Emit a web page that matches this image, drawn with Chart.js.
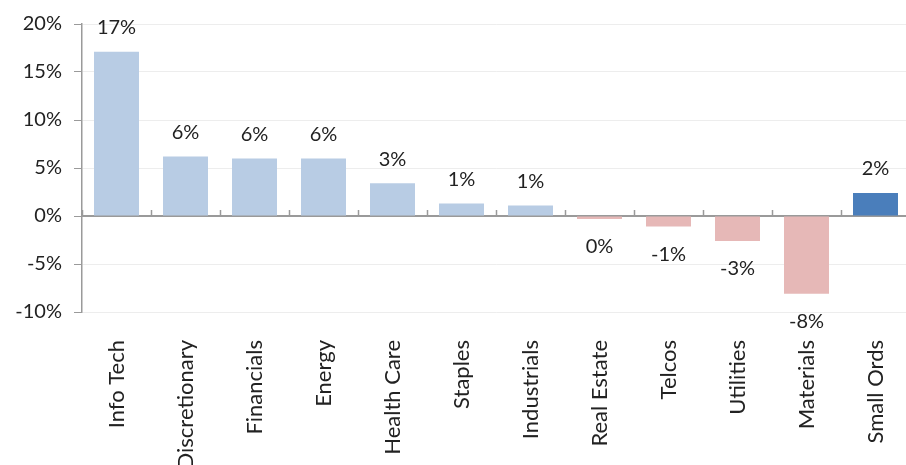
<!DOCTYPE html>
<html>
<head>
<meta charset="utf-8">
<script src="https://cdn.jsdelivr.net/npm/chart.js@4"></script>
<style>
    html, body { margin: 0; padding: 0; background: #fff; overflow: hidden; }
    #wrap { position: relative; width: 910px; height: 465px; }
</style>
</head>
<body>
<div id="wrap"><canvas id="sectorChart"></canvas></div>
<script>
    "use strict";
    // Sector returns
    const sectors = ['Info Tech', 'Discretionary', 'Financials', 'Energy', 'Health Care', 'Staples',
        'Industrials', 'Real Estate', 'Telcos', 'Utilities', 'Materials', 'Small Ords'];
    const returns = [17.1, 6.2, 6.0, 6.0, 3.4, 1.3, 1.1, -0.3, -1.1, -2.6, -8.1, 2.4];
    const yTicks = [-10, -5, 0, 5, 10, 15, 20];

    const fontFamily = 'Lato, "Open Sans", sans-serif';
    const lightBlue = '#b8cce4';
    const pink = '#e6b8b7';
    const darkBlue = '#4a7ebb';

    const barColors = returns.map(function (v, i) {
        if (i === returns.length - 1) {
            return darkBlue;
        }
        return v >= 0 ? lightBlue : pink;
    });

    // value labels above / below each bar
    const valueLabels = {
        id: 'valueLabels',
        afterDatasetsDraw: function (chart) {
            const ctx = chart.ctx;
            const meta = chart.getDatasetMeta(0);
            ctx.save();
            ctx.font = '20px ' + fontFamily;
            ctx.fillStyle = '#222';
            ctx.textAlign = 'center';
            ctx.textBaseline = 'middle';
            meta.data.forEach(function (bar, i) {
                const v = returns[i];
                const text = String(Math.round(v)).replace('-0', '0') + '%';
                const y = v >= 0 ? bar.y - 24 : bar.y + 28;
                ctx.fillText(text, bar.x, y);
            });
            ctx.restore();
        }
    };

    const noSidePadding = function (scale) {
        scale.paddingLeft = 0;
        scale.paddingRight = 0;
    };

    const context = document.getElementById('sectorChart').getContext('2d');
    const chart = new Chart(context, {
        type: 'bar',
        data: {
            labels: sectors,
            datasets: [{
                data: returns,
                backgroundColor: barColors,
                borderWidth: 0,
                categoryPercentage: 1,
                barPercentage: 0.652,
                xAxisID: 'x',
                yAxisID: 'y'
            }]
        },
        options: {
            responsive: true,
            maintainAspectRatio: false,
            animation: false,
            layout: {
                padding: { top: 21, left: 0, right: 0, bottom: 0 }
            },
            scales: {
                y: {
                    min: -10,
                    max: 20,
                    afterFit: function (scale) {
                        scale.width = 82;
                    },
                    afterBuildTicks: function (scale) {
                        scale.ticks = yTicks.map(function (v) { return { value: v }; });
                    },
                    ticks: {
                        padding: 12,
                        color: '#222',
                        font: { family: fontFamily, size: 20 },
                        callback: function (value) {
                            return value + '%';
                        }
                    },
                    grid: {
                        color: '#ededed',
                        lineWidth: 1,
                        tickColor: '#9a9a9a',
                        tickLength: 8
                    },
                    border: {
                        color: '#9a9a9a',
                        width: 1.5
                    }
                },
                x: {
                    position: 'bottom',
                    afterFit: function (scale) {
                        scale.height = 153;
                        noSidePadding(scale);
                    },
                    grid: { display: false },
                    border: { display: false },
                    ticks: {
                        autoSkip: false,
                        maxRotation: 90,
                        minRotation: 90,
                        padding: 20,
                        color: '#222',
                        font: { family: fontFamily, size: 22 }
                    }
                },
                x0: {
                    type: 'category',
                    position: { y: 0 },
                    offset: true,
                    afterFit: noSidePadding,
                    ticks: { display: false },
                    grid: {
                        offset: true,
                        drawOnChartArea: false,
                        drawTicks: true,
                        tickLength: -7,
                        tickColor: '#9a9a9a',
                        tickWidth: 1.5
                    },
                    border: {
                        color: '#9a9a9a',
                        width: 2
                    }
                }
            },
            plugins: {
                legend: { display: false },
                tooltip: { enabled: false }
            }
        },
        plugins: [valueLabels]
    });
</script>
</body>
</html>
